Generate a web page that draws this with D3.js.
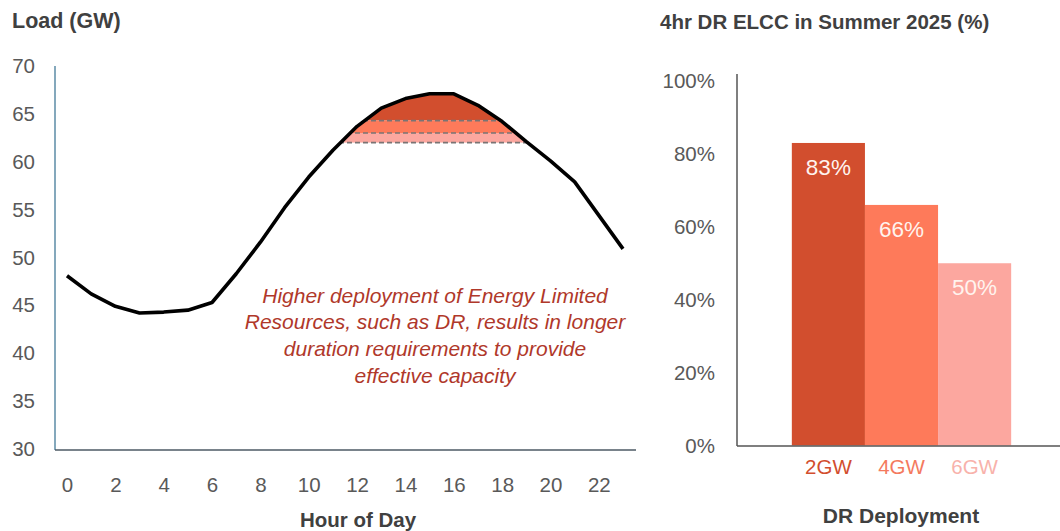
<!DOCTYPE html>
<html>
<head>
<meta charset="utf-8">
<script src="https://cdn.jsdelivr.net/npm/d3@7"></script>
<style>
  html, body { margin: 0; padding: 0; background: #fff; }
  svg { display: block; font-family: "Liberation Sans", Arial, sans-serif; }
</style>
</head>
<body>
<svg id="chart" width="1060" height="531"></svg>
<script>
// ---- Load profile (left panel) ----
const hours = [0, 1, 2, 3, 4, 5, 6, 7, 8, 9, 10, 11, 12, 13, 14, 15, 16, 17, 18, 19, 20, 21, 22, 23];
const loadGW = [48.1, 46.2, 44.9, 44.2, 44.3, 44.5, 45.3, 48.3, 51.6, 55.2, 58.4, 61.2,
                63.7, 65.6, 66.6, 67.1, 67.1, 65.9, 64.2, 62.1, 60.1, 57.9, 54.4, 50.9];
const loadTicks = [30, 35, 40, 45, 50, 55, 60, 65, 70];
const hourTicks = [0, 2, 4, 6, 8, 10, 12, 14, 16, 18, 20, 22];
// Load level the peak is shaved down to by each DR deployment
const shaveLevels = [64.3, 63.0, 62.0];
const noteLines = [
  "Higher deployment of Energy Limited",
  "Resources, such as DR, results in longer",
  "duration requirements to provide",
  "effective capacity"
];

// ---- ELCC bars (right panel) ----
const deployments = ["2GW", "4GW", "6GW"];
const elcc = [83, 66, 50];
const pctTicks = [0, 20, 40, 60, 80, 100];

const shades = ["#d24e2e", "#fe7a5a", "#fca79f"];
const catLabelColors = ["#d24e2e", "#f47a5e", "#f8b2ab"];

const svg = d3.select("#chart");
const tickColor = "#595959";
const titleColor = "#404040";

// ================= Left panel =================
const L = { left: 55, right: 636, top: 66, bottom: 450 };
const x = d3.scaleLinear().domain([0, 23]).range([67, 623]);
const y = d3.scaleLinear().domain([30, 70]).range([449, 66]);

const left = svg.append("g");

// Region under the curve, used to clip the shaved-peak bands
const underCurve = d3.area()
  .x((d, i) => x(hours[i]))
  .y0(y(30))
  .y1(d => y(d));

svg.append("defs").append("clipPath").attr("id", "under-curve")
  .append("path").attr("d", underCurve(loadGW));

const peak = d3.max(loadGW);
const bandG = left.append("g").attr("clip-path", "url(#under-curve)");
shaveLevels.forEach((lvl, i) => {
  const hi = i === 0 ? peak : shaveLevels[i - 1];
  bandG.append("rect")
    .attr("x", x(hours[0]))
    .attr("width", x(hours[hours.length - 1]) - x(hours[0]))
    .attr("y", y(hi))
    .attr("height", y(lvl) - y(hi))
    .attr("fill", shades[i]);
});
shaveLevels.forEach(lvl => {
  bandG.append("line")
    .attr("x1", x(hours[0])).attr("x2", x(hours[hours.length - 1]))
    .attr("y1", y(lvl)).attr("y2", y(lvl))
    .attr("stroke", "#7a7474").attr("stroke-width", 1.6)
    .attr("stroke-dasharray", "5,3");
});

// Load curve
left.append("path")
  .datum(loadGW)
  .attr("fill", "none")
  .attr("stroke", "#000")
  .attr("stroke-width", 3.6)
  .attr("stroke-linejoin", "round")
  .attr("d", d3.line().x((d, i) => x(hours[i])).y(d => y(d)));

// Axis frame lines
left.append("line")
  .attr("x1", L.left).attr("x2", L.left)
  .attr("y1", L.top).attr("y2", L.bottom)
  .attr("stroke", "#5b8ba6").attr("stroke-width", 1.5);
left.append("line")
  .attr("x1", L.left).attr("x2", L.right)
  .attr("y1", L.bottom).attr("y2", L.bottom)
  .attr("stroke", "#4c5a64").attr("stroke-width", 1.5);

// Y axis labels
const yAxis = d3.axisLeft(y).tickValues(loadTicks).tickSize(0).tickPadding(0);
const yAx = left.append("g").attr("transform", "translate(35,0)").call(yAxis);
yAx.select(".domain").remove();
yAx.selectAll("text").attr("fill", tickColor).style("font-size", "20.5px");

// X axis labels
const xAxis = d3.axisBottom(x).tickValues(hourTicks).tickSize(0).tickPadding(0);
const xAx = left.append("g").attr("transform", "translate(0,477)").call(xAxis);
xAx.select(".domain").remove();
xAx.selectAll("text").attr("fill", tickColor).style("font-size", "20.5px");

left.append("text")
  .attr("x", 12).attr("y", 28)
  .attr("fill", titleColor).style("font-size", "21.5px").style("font-weight", "bold")
  .text("Load (GW)");
left.append("text")
  .attr("x", 358).attr("y", 527).attr("text-anchor", "middle")
  .attr("fill", titleColor).style("font-size", "20.5px").style("font-weight", "bold")
  .text("Hour of Day");

// Annotation
const note = left.append("text")
  .attr("text-anchor", "middle")
  .attr("fill", "#b0382a")
  .style("font-size", "21px").style("font-style", "italic");
noteLines.forEach((t, i) => {
  note.append("tspan").attr("x", 435).attr("y", 302.5 + i * 26.8).text(t);
});

// ================= Right panel =================
const R = { left: 737, right: 1060, top: 74, bottom: 446 };
const xb = d3.scaleBand().domain(deployments).range([737, 1066])
  .paddingInner(0).paddingOuter(0.75);
const yb = d3.scaleLinear().domain([0, 100]).range([445.5, 81]);

const right = svg.append("g");

right.selectAll("rect.bar")
  .data(elcc)
  .join("rect")
  .attr("class", "bar")
  .attr("x", (d, i) => xb(deployments[i]))
  .attr("width", xb.bandwidth())
  .attr("y", d => yb(d))
  .attr("height", d => yb(0) - yb(d))
  .attr("fill", (d, i) => shades[i]);

right.selectAll("text.val")
  .data(elcc)
  .join("text")
  .attr("class", "val")
  .attr("x", (d, i) => xb(deployments[i]) + xb.bandwidth() / 2)
  .attr("y", d => yb(d) + 32)
  .attr("text-anchor", "middle")
  .attr("fill", "#fff3ee")
  .style("font-size", "22.5px")
  .text(d => d + "%");

right.append("line")
  .attr("x1", R.left).attr("x2", R.left)
  .attr("y1", R.top).attr("y2", R.bottom)
  .attr("stroke", "#555").attr("stroke-width", 1.5);
right.append("line")
  .attr("x1", R.left).attr("x2", R.right)
  .attr("y1", R.bottom).attr("y2", R.bottom)
  .attr("stroke", "#555").attr("stroke-width", 1.5);

const ybAxis = d3.axisLeft(yb).tickValues(pctTicks).tickFormat(d => d + "%").tickSize(0).tickPadding(0);
const ybAx = right.append("g").attr("transform", "translate(715,0)").call(ybAxis);
ybAx.select(".domain").remove();
ybAx.selectAll("text").attr("fill", tickColor).style("font-size", "20.5px");

const xbAxis = d3.axisBottom(xb).tickSize(0).tickPadding(0);
const xbAx = right.append("g").attr("transform", "translate(0,459)").call(xbAxis);
xbAx.select(".domain").remove();
xbAx.selectAll("text")
  .attr("fill", (d, i) => catLabelColors[i])
  .style("font-size", "20.5px");

right.append("text")
  .attr("x", 660).attr("y", 29)
  .attr("fill", titleColor).style("font-size", "20.5px").style("font-weight", "bold")
  .text("4hr DR ELCC in Summer 2025 (%)");
right.append("text")
  .attr("x", 901).attr("y", 523).attr("text-anchor", "middle")
  .attr("fill", titleColor).style("font-size", "21px").style("font-weight", "bold")
  .text("DR Deployment");
</script>
</body>
</html>
